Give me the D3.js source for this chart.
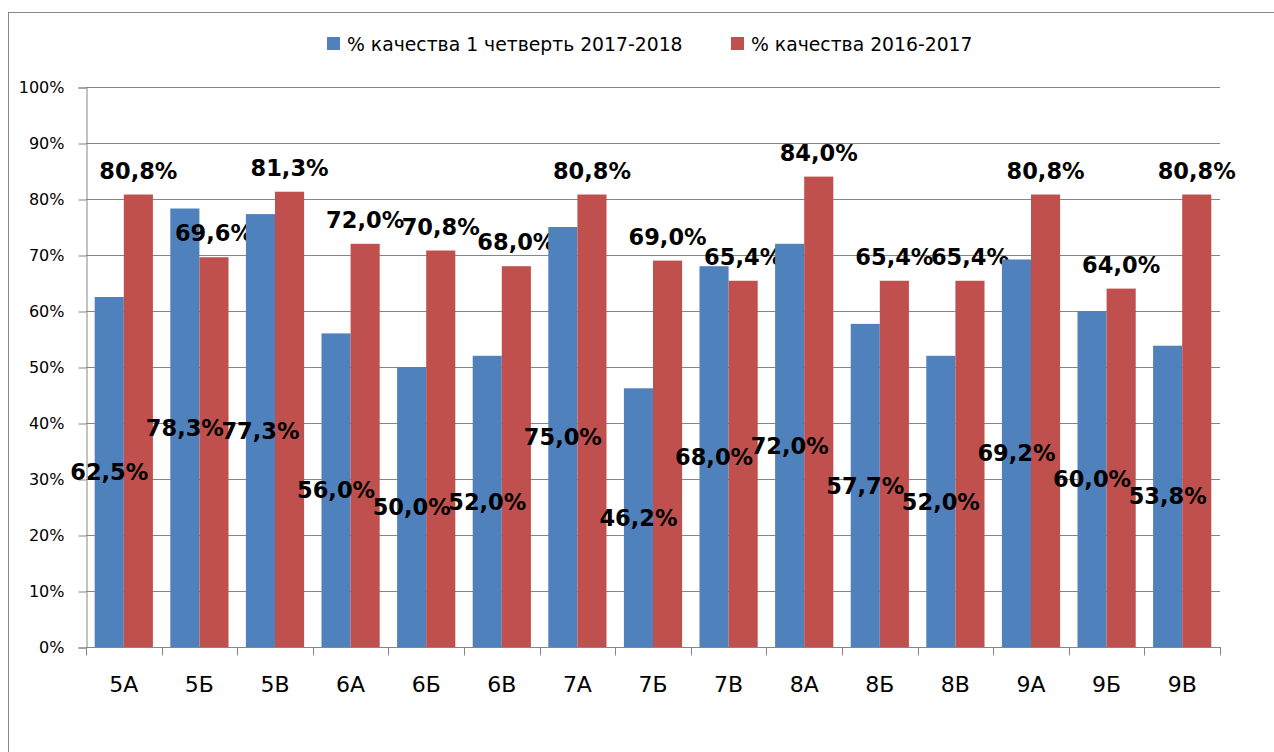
<!DOCTYPE html>
<html>
<head>
<meta charset="utf-8">
<script src="https://cdn.jsdelivr.net/npm/d3@7"></script>
<style>
  body { margin: 0; background: #fff; }
  svg { display: block; font-family: "DejaVu Sans", sans-serif; }
</style>
</head>
<body>
<div id="chart"></div>
<script>
// Успеваемость по классам: доля качества, два учебных периода
const classes = ['5А', '5Б', '5В', '6А', '6Б', '6В', '7А', '7Б', '7В', '8А', '8Б', '8В', '9А', '9Б', '9В'];
const current = [62.5, 78.3, 77.3, 56.0, 50.0, 52.0, 75.0, 46.2, 68.0, 72.0, 57.7, 52.0, 69.2, 60.0, 53.8];
const previous = [80.8, 69.6, 81.3, 72.0, 70.8, 68.0, 80.8, 69.0, 65.4, 84.0, 65.4, 65.4, 80.8, 64.0, 80.8];
const seriesNames = ['% качества 1 четверть 2017-2018', '% качества 2016-2017'];
const yTicks = [0, 10, 20, 30, 40, 50, 60, 70, 80, 90, 100];

const W = 1274, H = 752;
const colors = ['#4f81bd', '#c0504d'];
const plot = { left: 86, right: 1220, top: 87, bottom: 647 };

const svg = d3.select('#chart').append('svg')
    .attr('width', W).attr('height', H);

// рамка области диаграммы
svg.append('rect')
    .attr('x', 8.5).attr('y', 12.5)
    .attr('width', 1290).attr('height', 780)
    .attr('fill', 'none').attr('stroke', '#888').attr('stroke-width', 1);

const x = d3.scaleBand().domain(classes)
    .range([plot.left, plot.right]).paddingInner(0.23).paddingOuter(0.115);
const y = d3.scaleLinear().domain([0, 100]).range([plot.bottom, plot.top]);
const xs = d3.scaleBand().domain([0, 1]).range([0, x.bandwidth()]);

// сетка
svg.append('g').selectAll('line').data(yTicks.filter(d => d > 0)).join('line')
    .attr('x1', plot.left).attr('x2', plot.right)
    .attr('y1', d => Math.round(y(d)) + 0.5).attr('y2', d => Math.round(y(d)) + 0.5)
    .attr('stroke', '#868686').attr('stroke-width', 1);

// ось Y
const yAxis = svg.append('g')
    .attr('transform', `translate(${plot.left + 0.5},0.5)`)
    .call(d3.axisLeft(y).tickValues(yTicks).tickSize(8).tickPadding(14).tickFormat(d => d + '%'));
yAxis.select('.domain').attr('stroke', '#868686');
yAxis.selectAll('.tick line').attr('stroke', '#868686');
yAxis.selectAll('text').attr('font-size', 16).attr('fill', '#000')
    .attr('font-family', '"DejaVu Sans", sans-serif');

// столбцы
const data = classes.map((c, i) => ({ c, vals: [current[i], previous[i]] }));
const groups = svg.append('g').selectAll('g').data(data).join('g')
    .attr('transform', d => `translate(${x(d.c)},0)`);

groups.selectAll('rect').data(d => d.vals).join('rect')
    .attr('x', (v, j) => xs(j))
    .attr('width', xs.bandwidth())
    .attr('y', v => y(v))
    .attr('height', v => y(0) - y(v))
    .attr('fill', (v, j) => colors[j]);

// ось X
const xAxisG = svg.append('g')
    .attr('transform', `translate(0,${plot.bottom + 0.5})`);
xAxisG.append('line').attr('x1', plot.left).attr('x2', plot.right + 1)
    .attr('stroke', '#868686');
const tickPos = d3.range(classes.length + 1).map(i => plot.left + i * (plot.right - plot.left) / classes.length);
xAxisG.selectAll('line.tick').data(tickPos).join('line').attr('class', 'tick')
    .attr('x1', d => Math.round(d) + 0.5).attr('x2', d => Math.round(d) + 0.5)
    .attr('y1', 0).attr('y2', 8).attr('stroke', '#868686');
xAxisG.selectAll('text').data(classes).join('text')
    .attr('x', d => x(d) + x.bandwidth() / 2)
    .attr('y', 44)
    .attr('text-anchor', 'middle')
    .attr('font-size', 22)
    .text(d => d);

// подписи данных
const fmt = v => v.toFixed(1).replace('.', ',') + '%';
groups.append('text')
    .attr('x', xs(0) + xs.bandwidth() / 2)
    .attr('y', d => y(d.vals[0] / 2))
    .attr('dy', '0.36em')
    .attr('text-anchor', 'middle')
    .attr('font-size', 22.5).attr('font-weight', 'bold')
    .text(d => fmt(d.vals[0]));
groups.append('text')
    .attr('x', xs(1) + xs.bandwidth() / 2)
    .attr('y', d => y(d.vals[1]) - 16)
    .attr('text-anchor', 'middle')
    .attr('font-size', 22.5).attr('font-weight', 'bold')
    .text(d => fmt(d.vals[1]));

// легенда
const legend = svg.append('g').attr('transform', 'translate(0,51)');
const legendX = [327, 731];
seriesNames.forEach((name, i) => {
    legend.append('rect')
        .attr('x', legendX[i]).attr('y', -14).attr('width', 13).attr('height', 13)
        .attr('fill', colors[i]);
    legend.append('text')
        .attr('x', legendX[i] + 20).attr('y', 0)
        .attr('font-size', 18.8)
        .text(name);
});
</script>
</body>
</html>
